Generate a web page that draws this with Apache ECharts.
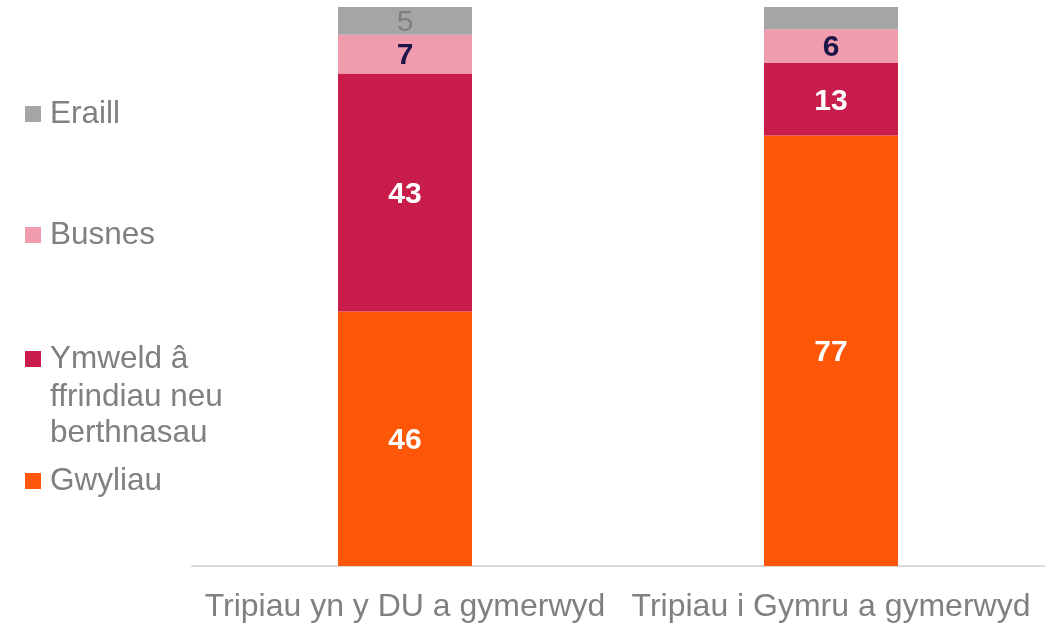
<!DOCTYPE html>
<html>
<head>
<meta charset="utf-8">
<script src="https://cdn.jsdelivr.net/npm/echarts@6/dist/echarts.min.js"></script>
<style>
  html, body { margin: 0; padding: 0; background: #ffffff; }
  #chart { width: 1059px; height: 623px; }
</style>
</head>
<body>
<div id="chart"></div>
<script>
// Trip purpose, share of trips taken (per cent)
const categories = ['Tripiau yn y DU a gymerwyd', 'Tripiau i Gymru a gymerwyd'];
const gwyliau = [46, 77];
const ymweld = [43, 13];
const busnes = [7, 6];
const eraill = [5, 4];
// Eraill on the second bar carries no label
const eraillShowLabel = [true, false];

const seriesNames = ['Gwyliau', 'Ymweld â ffrindiau neu berthnasau', 'Busnes', 'Eraill'];
const colors = ['#FF5708', '#C81D4A', '#F09BAE', '#A5A5A5'];

// Each bar is a 100% stack: every segment is drawn as its share of the bar total
const totals = categories.map((_, i) => gwyliau[i] + ymweld[i] + busnes[i] + eraill[i]);
const toShare = (arr, showArr) => arr.map((v, i) => {
  const item = { value: v / totals[i] * 100, raw: v };
  if (showArr && !showArr[i]) item.label = { show: false };
  return item;
});

const font = 'Arial, "Liberation Sans", Helvetica, sans-serif';
const legendFontSize = 31.5;
const labelFmt = p => String(p.data.raw);

const chart = echarts.init(document.getElementById('chart'), null, { renderer: 'canvas' });

function makeSeries(name, values, color, labelStyle, showArr) {
  return {
    name: name,
    type: 'bar',
    stack: 'total',
    barWidth: 134,
    data: toShare(values, showArr),
    itemStyle: { color: color },
    label: Object.assign({
      show: true,
      position: 'inside',
      offset: [0, 2],
      formatter: labelFmt,
      fontFamily: font,
      fontSize: 30
    }, labelStyle),
    emphasis: { disabled: true }
  };
}

// One legend block per series, stacked down the left side
function legendAt(name, top, text) {
  return {
    data: [name],
    left: 25,
    top: top,
    padding: 0,
    itemWidth: 16,
    itemHeight: 16,
    itemGap: 0,
    icon: 'rect',
    selectedMode: false,
    formatter: () => text,
    textStyle: { color: '#808080', fontSize: legendFontSize, fontFamily: font, padding: [0, 0, 0, 4] }
  };
}

chart.setOption({
  animation: false,
  backgroundColor: '#ffffff',
  grid: { left: 192, right: 15, top: 7, bottom: 55, containLabel: false },
  legend: [
    legendAt('Eraill', 98, 'Eraill'),
    legendAt('Busnes', 219, 'Busnes'),
    legendAt('Ymweld â ffrindiau neu berthnasau', 343, 'Ymweld â'),
    legendAt('Gwyliau', 465, 'Gwyliau')
  ],
  graphic: [{
    type: 'text',
    left: 50,
    top: 379,
    style: {
      text: 'ffrindiau neu\nberthnasau',
      fill: '#808080',
      font: legendFontSize + 'px ' + font,
      lineHeight: 36
    },
    silent: true
  }],
  xAxis: {
    type: 'category',
    data: categories,
    axisLine: { show: true, lineStyle: { color: '#D9D9D9', width: 2 } },
    axisTick: { show: false },
    axisLabel: { color: '#808080', fontSize: 32, fontFamily: font, margin: 25, interval: 0 }
  },
  yAxis: {
    type: 'value',
    min: 0,
    max: 100,
    show: false,
    splitLine: { show: false }
  },
  series: [
    makeSeries(seriesNames[0], gwyliau, colors[0], { color: '#ffffff', fontWeight: 'bold' }),
    makeSeries(seriesNames[1], ymweld, colors[1], { color: '#ffffff', fontWeight: 'bold' }),
    makeSeries(seriesNames[2], busnes, colors[2], { color: '#1B1548', fontWeight: 'bold' }),
    makeSeries(seriesNames[3], eraill, colors[3], { color: '#7F7F7F', fontWeight: 'normal' }, eraillShowLabel)
  ]
});
</script>
</body>
</html>
